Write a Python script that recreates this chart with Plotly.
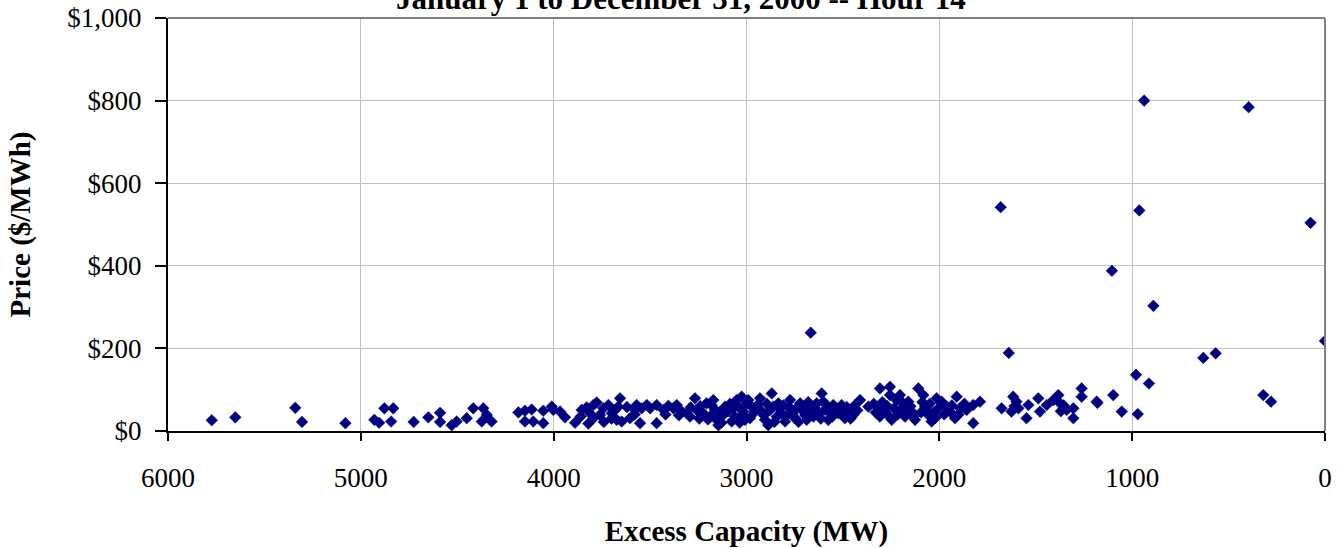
import plotly.graph_objects as go

# Excess capacity (MW) and price ($/MWh)
excess_mw = [
    5773, 5651, 5340, 5305, 5080,
    4930, 4905, 4878, 4832, 4843, 4726, 4650, 4589, 4589, 4529, 4503, 4451, 4417, 4365, 4373,
    4347, 4322, 4183, 4149, 4114, 4149, 4106, 4054, 4054, 4010,
    4002, 3967, 3941, 3889, 3855, 3829, 3812, 3794, 3777, 3820, 3794, 3760, 3742, 3716, 3699,
    3682, 3665, 3656, 3673, 3647, 3604, 3578, 3570, 3544, 3552, 3517, 3500, 3466, 3466, 3431,
    3405, 3379, 3362, 3336, 3310, 3293, 3267, 3259, 3224, 3207, 3189, 3172, 3163, 3155, 3120,
    3111, 3077, 3068, 3051, 3025, 3016, 2999, 3008, 3146,
    3240, 3200, 3180, 3140, 3130, 3095, 3085, 3060, 3040, 3035, 3020, 3245, 3420, 3350, 3290,
    3580, 3620, 3700, 3740, 3860,
    2991, 2973, 2982, 2930, 2921, 2904, 2887, 2869, 2861, 2835, 2843, 2818, 2800, 2774, 2766,
    2748, 2722, 2705, 2688, 2671, 2653, 2636, 2610, 2602, 2593, 2576, 2550, 2524, 2507, 2490,
    2472, 2446, 2437, 2411, 2368, 2308, 2256, 2256, 2316, 2308, 2282, 2247, 2222, 2204, 2196,
    2178, 2161, 2144, 2126, 2109, 2083, 2074, 2057, 2040, 2014, 2005,
    2960, 2945, 2910, 2895, 2880, 2855, 2830, 2810, 2790, 2780, 2760, 2740, 2730, 2715, 2695,
    2680, 2660, 2645, 2625, 2615, 2585, 2565, 2555, 2540, 2515, 2500, 2480, 2460, 2455, 2425,
    2340, 2330, 2295, 2270, 2265, 2235, 2215, 2190, 2170, 2150, 2135, 2095, 2088, 2066, 2050,
    2030, 2020,
    1988, 1962, 1945, 1919, 1910, 1893, 1858, 1824, 1789, 1824, 1617, 1600, 1677, 1626,
    1548, 1538, 1487, 1478, 1443, 1409, 1383, 1374, 1340, 1305, 1305, 1262, 1262, 1184, 1098,
    1054, 980, 971, 913,
    1975, 1935, 1900, 1870, 1610, 1590, 1370, 1355, 1180,
    631, 567, 320, 280, 0,
    2667, 1682, 1640, 1105, 938, 963, 890, 396, 75,
]
price_usd = [
    26, 33, 56, 22, 19,
    27, 20, 55, 55, 23, 22, 33, 44, 22, 14, 23, 31, 55, 55, 23,
    39, 23, 45, 49, 52, 23, 23, 49, 19, 59,
    51, 47, 33, 20, 51, 57, 43, 63, 69, 18, 31, 39, 55, 63, 43,
    51, 59, 79, 27, 23, 31, 51, 63, 55, 19, 63, 55, 63, 19, 51,
    61, 55, 63, 47, 43, 35, 79, 51, 43, 67, 35, 75, 51, 27, 39,
    59, 23, 55, 75, 83, 47, 67, 27, 14,
    60, 28, 62, 45, 20, 48, 66, 35, 58, 20, 40, 30, 40, 38, 57,
    40, 58, 30, 22, 35,
    75, 59, 31, 79, 47, 27, 14, 91, 59, 67, 35, 43, 23, 75, 51,
    31, 67, 47, 27, 59, 35, 67, 91, 71, 51, 27, 63, 43, 63, 31,
    51, 39, 63, 75, 59, 103, 107, 87, 59, 35, 47, 27, 75, 87, 55,
    35, 71, 47, 27, 103, 87, 59, 39, 23, 79, 55,
    45, 62, 38, 66, 50, 22, 55, 62, 38, 58, 40, 55, 22, 60, 38,
    70, 48, 56, 42, 30, 62, 45, 35, 55, 52, 40, 58, 30, 47, 50,
    66, 45, 70, 60, 38, 55, 40, 68, 50, 60, 35, 45, 70, 50, 66,
    45, 32,
    71, 59, 47, 31, 83, 55, 51, 63, 71, 19, 83, 71, 55, 47,
    31, 63, 79, 47, 63, 75, 87, 67, 51, 55, 31, 103, 83, 71, 87,
    47, 136, 41, 115,
    40, 62, 40, 66, 60, 55, 48, 62, 68,
    177, 188, 87, 71, 218,
    238, 542, 189, 388, 800, 534, 303, 784, 504,
]

x_ticks = [6000, 5000, 4000, 3000, 2000, 1000, 0]
y_ticks = [0, 200, 400, 600, 800, 1000]
y_tick_labels = ["$0", "$200", "$400", "$600", "$800", "$1,000"]

title_text = "January 1 to December 31, 2000 -- Hour 14"
x_title = "Excess Capacity (MW)"
y_title = "Price ($/MWh)"

FONT = "Liberation Serif, Times New Roman, serif"

fig = go.Figure()
fig.add_trace(go.Scatter(
    x=excess_mw, y=price_usd, mode="markers",
    marker=dict(symbol="diamond", size=9, color="#000080",
                line=dict(width=0.5, color="#000080")),
    showlegend=False, hoverinfo="x+y",
))

fig.update_layout(
    width=1343, height=548,
    margin=dict(l=168, r=18, t=18, b=117),
    paper_bgcolor="white", plot_bgcolor="white",
    font=dict(family=FONT, size=27, color="black"),
    xaxis=dict(
        range=[6000, 0], tickvals=x_ticks, ticktext=[str(v) for v in x_ticks],
        showgrid=True, gridcolor="#c0c0c0", gridwidth=1,
        showline=True, linecolor="black", linewidth=2,
        ticks="outside", ticklen=8, tickwidth=2, tickcolor="black",
        ticklabelstandoff=14, zeroline=False, automargin=False,
        title=dict(text="<b>" + x_title + "</b>", standoff=28,
                   font=dict(family=FONT, size=29)),
    ),
    yaxis=dict(
        range=[0, 1000], tickvals=y_ticks, ticktext=y_tick_labels,
        showgrid=True, gridcolor="#c0c0c0", gridwidth=1,
        showline=True, linecolor="black", linewidth=2,
        ticks="outside", ticklen=11, tickwidth=2, tickcolor="black",
        ticklabelstandoff=8, zeroline=False, automargin=False,
        title=dict(text="<b>" + y_title + "</b>", standoff=28,
                   font=dict(family=FONT, size=29)),
    ),
    shapes=[
        dict(type="line", xref="paper", yref="paper", x0=0, x1=1, y0=1, y1=1,
             line=dict(color="#808080", width=2)),
        dict(type="line", xref="paper", yref="paper", x0=1, x1=1, y0=0, y1=1,
             line=dict(color="#808080", width=2)),
    ],
    annotations=[
        dict(text="<b>" + title_text + "</b>", xref="paper", yref="paper",
             x=0.443, y=1.0, xanchor="center", yanchor="bottom", yshift=0,
             showarrow=False, font=dict(family=FONT, size=31)),
    ],
)

fig.write_html("out.html")
